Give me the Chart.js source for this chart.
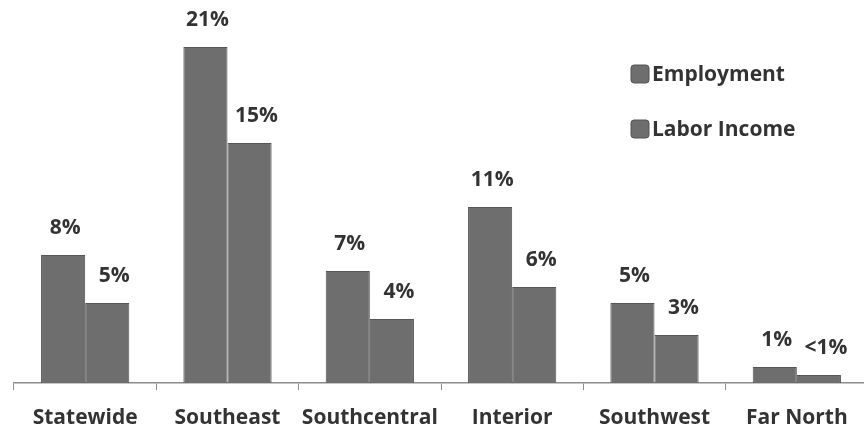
<!DOCTYPE html>
<html>
<head>
<meta charset="utf-8">
<script src="https://cdn.jsdelivr.net/npm/chart.js@4.4.0/dist/chart.umd.min.js"></script>
<style>
  html, body { margin: 0; padding: 0; background: #fff; overflow: hidden; }
  #wrap { width: 870px; height: 434px; }
</style>
</head>
<body>
<div id="wrap"><canvas id="c" width="870" height="434"></canvas></div>
<script>
// Regional shares, in percent
const regions = ['Statewide', 'Southeast', 'Southcentral', 'Interior', 'Southwest', 'Far North'];
const employment = [8, 21, 7, 11, 5, 1];
const laborIncome = [5, 15, 4, 6, 3, 0.5];
const employmentLabels = ['8%', '21%', '7%', '11%', '5%', '1%'];
const laborIncomeLabels = ['5%', '15%', '4%', '6%', '3%', '<1%'];
const seriesNames = ['Employment', 'Labor Income'];

const barFill = '#6e6e6e';
const barEdge = '#555555';
const textColor = '#333333';
const fontFamily = '"Open Sans", "Liberation Sans", sans-serif';
const labelFont = 'bold 21px ' + fontFamily;

// Value labels above each bar
const valueLabels = {
  id: 'valueLabels',
  afterDatasetsDraw(chart) {
    const ctx = chart.ctx;
    ctx.save();
    ctx.font = labelFont;
    ctx.fillStyle = textColor;
    ctx.textAlign = 'center';
    ctx.textBaseline = 'middle';
    chart.data.datasets.forEach((ds, di) => {
      chart.getDatasetMeta(di).data.forEach((bar, i) => {
        ctx.fillText(ds.valueText[i], bar.x + ds.labelShift, bar.y - 27);
      });
    });
    ctx.restore();
  }
};

// Stacked legend in the upper right
const sideLegend = {
  id: 'sideLegend',
  afterDraw(chart) {
    const ctx = chart.ctx;
    ctx.save();
    ctx.font = labelFont;
    ctx.textBaseline = 'middle';
    ctx.textAlign = 'left';
    chart.data.datasets.forEach((ds, i) => {
      const x = 631, y = 65 + i * 55;
      ctx.fillStyle = ds.backgroundColor;
      ctx.strokeStyle = ds.borderColor;
      ctx.lineWidth = 1;
      ctx.beginPath();
      ctx.roundRect(x, y, 18, 18, 3);
      ctx.fill();
      ctx.stroke();
      ctx.fillStyle = textColor;
      ctx.fillText(ds.label, x + 21, y + 10);
    });
    ctx.restore();
  }
};

new Chart(document.getElementById('c'), {
  type: 'bar',
  data: {
    labels: regions,
    datasets: [
      { label: seriesNames[0], data: employment, valueText: employmentLabels, labelShift: 2,
        backgroundColor: barFill, borderColor: barEdge, borderWidth: 1 },
      { label: seriesNames[1], data: laborIncome, valueText: laborIncomeLabels, labelShift: 7,
        backgroundColor: barFill, borderColor: barEdge, borderWidth: 1 }
    ]
  },
  options: {
    responsive: false,
    animation: false,
    categoryPercentage: 0.62,
    barPercentage: 1.0,
    layout: { padding: { left: 14, right: 2, top: 15, bottom: 0 } },
    plugins: { legend: { display: false }, tooltip: { enabled: false } },
    scales: {
      x: {
        offset: true,
        border: { display: true, color: '#8c8c8c', width: 1.5 },
        grid: { display: true, drawOnChartArea: false, drawTicks: true, tickLength: 7, color: '#8c8c8c', offset: true },
        ticks: { color: textColor, font: { family: fontFamily, size: 21, weight: 'bold' }, padding: 15, maxRotation: 0 },
        afterFit(scale) { scale.height = 51; }
      },
      y: { display: false, min: 0, max: 23 }
    }
  },
  plugins: [valueLabels, sideLegend]
});
</script>
</body>
</html>
